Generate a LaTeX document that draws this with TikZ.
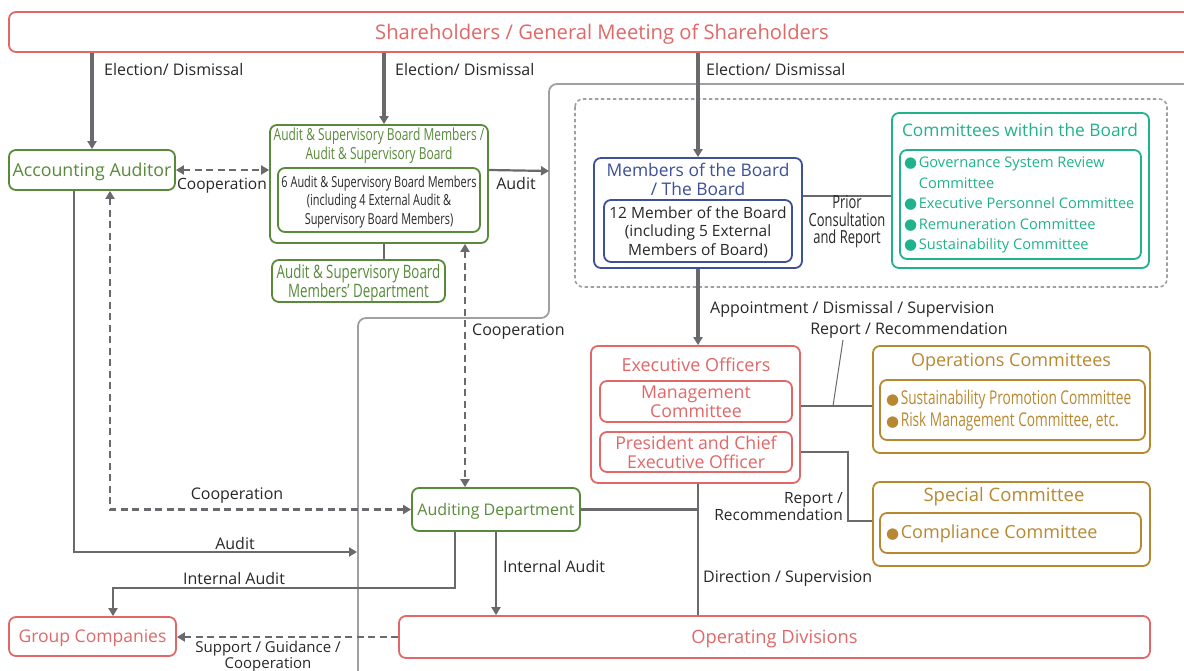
\documentclass[tikz,border=0pt]{standalone}
\usepackage{fontspec}
\setmainfont{Open Sans}
\newfontfamily\narrowfont[FakeStretch=0.72]{Open Sans}
\newfontfamily\symfont{DejaVu Sans}
\usetikzlibrary{arrows.meta}

\definecolor{redc}{RGB}{224,104,104}
\definecolor{greenc}{RGB}{88,138,58}
\definecolor{bluec}{RGB}{62,80,150}
\definecolor{tealc}{RGB}{32,178,140}
\definecolor{goldc}{RGB}{184,136,48}
\definecolor{linec}{RGB}{105,105,110}
\definecolor{framec}{RGB}{160,160,160}
\definecolor{txt}{RGB}{40,40,40}

\newcommand\fsz[2]{\fontsize{#1}{#2}\selectfont}
\newcommand\bul{{\symfont\fontsize{15}{15}\selectfont\char"25CF}\hspace{1.5pt}}

\tikzset{
  box/.style={draw, rounded corners=7pt, line width=1.8pt, inner sep=0pt, align=center, text depth=0pt},
  conn/.style={draw=linec, line width=2.2pt},
  coop/.style={conn, dash pattern=on 7pt off 4.5pt},
  bigconn/.style={draw=linec, line width=4pt},
  lbl/.style={text=txt, font=\fsz{16}{18}, inner sep=1pt},
}

\begin{document}
\begin{tikzpicture}[x=1pt, y=-1pt, >={Triangle[length=8pt,width=9pt]}]
\useasboundingbox (0,0) rectangle (1184,671);
\fill[white] (0,0) rectangle (1184,671);

% outer frame lines
\draw[framec, line width=1.8pt, rounded corners=8pt] (1200,84) -- (549,84) -- (549,318) -- (358,318) -- (358,690);
\draw[framec, line width=1.6pt, rounded corners=8pt, dash pattern=on 3.5pt off 2.5pt] (575,99) rectangle (1167,287);

% shareholders
\node[box, draw=redc, text=redc, minimum width=1186pt, minimum height=40pt, font=\fsz{20.2}{22}] (share) at (602,32) {Shareholders / General Meeting of Shareholders};

% audit side
\node[box, draw=greenc, text=greenc, minimum width=166pt, minimum height=40pt, font=\fsz{17.8}{22}] (acc) at (92,170) {Accounting Auditor};

\node[box, draw=greenc, minimum width=218pt, minimum height=118pt] (asb) at (379,184) {};
\node[text=greenc, align=center, inner sep=0pt, font=\narrowfont\fsz{16.6}{19}] (asbt) at (379,146) {Audit \& Supervisory Board Members /\\Audit \& Supervisory Board};
\node[box, draw=greenc, text=txt, minimum width=202pt, minimum height=64pt, font=\narrowfont\fsz{15.2}{18.5}] (asbm) at (379,200) {6 Audit \& Supervisory Board Members\\(including 4 External Audit \&\\Supervisory Board Members)};
\node[box, draw=greenc, text=greenc, minimum width=173pt, minimum height=42pt, font=\narrowfont\fsz{18.5}{19}] (asbd) at (358.5,281) {Audit \& Supervisory Board\\Members’ Department};

\node[box, draw=greenc, text=greenc, minimum width=168pt, minimum height=43pt, font=\fsz{16}{20}] (aud) at (496,509.5) {Auditing Department};

% board
\node[box, draw=bluec, minimum width=208pt, minimum height=110pt] (board) at (698,213) {};
\node[text=bluec, align=center, inner sep=0pt, font=\fsz{17.4}{19}] (boardt) at (698,179) {Members of the Board\\/ The Board};
\node[box, draw=bluec, text=txt, minimum width=188pt, minimum height=62pt, font=\fsz{15.5}{18.5}] (boardm) at (698,231) {12 Member of the Board\\(including 5 External\\Members of Board)};

\node[box, draw=tealc, minimum width=257pt, minimum height=155pt] (cwb) at (1020.5,190.5) {};
\node[text=tealc, inner sep=0pt, font=\fsz{17.3}{20}] (cwbt) at (1020,130) {Committees within the Board};
\node[box, draw=tealc, minimum width=241pt, minimum height=109pt] (cwbm) at (1020.5,204.5) {};
\node[text=tealc, anchor=west, align=left, inner sep=0pt, font=\fsz{14.6}{20.5}] (cwbl) at (904,205) {\bul Governance System Review\\\phantom{\bul}Committee\\\bul Executive Personnel Committee\\\bul Remuneration Committee\\\bul Sustainability Committee};

% executive side
\node[box, draw=redc, minimum width=209pt, minimum height=137pt] (exec) at (695.5,414.5) {};
\node[text=redc, inner sep=0pt, font=\fsz{18}{20}] (exect) at (696,365) {Executive Officers};
\node[box, draw=redc, text=redc, minimum width=192pt, minimum height=41pt, font=\fsz{17.7}{18.5}] (mc) at (696,401.5) {Management\\Committee};
\node[box, draw=redc, text=redc, minimum width=192pt, minimum height=40pt, font=\fsz{17.7}{18.5}] (pceo) at (696,452) {President and Chief\\Executive Officer};

\node[box, draw=goldc, minimum width=277pt, minimum height=107pt] (opc) at (1011.5,399.5) {};
\node[text=goldc, inner sep=0pt, font=\fsz{18}{20}] (opct) at (1011,362) {Operations Committees};
\node[box, draw=goldc, minimum width=265pt, minimum height=60pt] (opcm) at (1012.5,410) {};
\node[text=goldc, anchor=west, align=left, inner sep=0pt, font=\narrowfont\fsz{19}{22}] (opcl) at (886,411) {\bul Sustainability Promotion Committee\\\bul Risk Management Committee, etc.};

\node[box, draw=goldc, minimum width=277pt, minimum height=84pt] (spc) at (1011.5,524) {};
\node[text=goldc, inner sep=0pt, font=\fsz{18.5}{20}] (spct) at (1004,497) {Special Committee};
\node[box, draw=goldc, minimum width=261pt, minimum height=40pt] (spcm) at (1010.5,533) {};
\node[text=goldc, anchor=west, inner sep=0pt, font=\fsz{18}{20}] (spcl) at (886,534) {\bul Compliance Committee};

% bottom row
\node[box, draw=redc, text=redc, minimum width=167pt, minimum height=39pt, font=\fsz{17.5}{20}] (grp) at (92.5,636.5) {Group Companies};
\node[box, draw=redc, text=redc, minimum width=751pt, minimum height=42pt, font=\fsz{18.3}{20}] (opd) at (774.5,637) {Operating Divisions};

% helper points
\coordinate (e1) at (384,0);
\coordinate (fa) at (549,171);
\coordinate (fb) at (357,552);
\coordinate (c2) at (465,0);
\coordinate (c3) at (110,0);
\coordinate (c4) at (74,552);
\coordinate (ia) at (455,588);
\coordinate (ib) at (113,588);
\coordinate (pc) at (0,196);
\coordinate (rr) at (833,406);
\coordinate (sr) at (848,521);

% election
\draw[bigconn, ->] (share.south -| acc) -- (acc.north);
\draw[bigconn, ->] (share.south -| e1) -- (asb.north -| e1);
\draw[bigconn, ->] (share.south -| board) -- (board.north);
\node[lbl, anchor=west] at (103,70) {Election/ Dismissal};
\node[lbl, anchor=west] at (394,70) {Election/ Dismissal};
\node[lbl, anchor=west] at (705,70) {Election/ Dismissal};

% audit links
\draw[coop, <->] (acc.east) -- (acc.east -| asb.west);
\node[lbl, anchor=north, font=\fsz{15.5}{18}] at (222,177) {Cooperation};
\draw[conn, ->] (acc.east -| asb.east) -- (fa);
\node[lbl, anchor=north] at (516,176) {Audit};
\draw[conn] (asb.south -| e1) -- (asbd.north -| e1);
\draw[coop, <->] (asb.south -| c2) -- (aud.north -| c2);
\node[lbl, anchor=west] at (471,332) {Cooperation};
\draw[coop, <->] (acc.south -| c3) |- (aud.west);
\node[lbl, anchor=south] at (237,505) {Cooperation};
\draw[conn, ->] (acc.south -| c4) -- (c4) -- (fb);
\node[lbl, anchor=south] at (235,551) {Audit};
\draw[conn, ->] (aud.south -| ia) -- (ia) -- (ib) -- (grp.north -| ib);
\node[lbl, anchor=south] at (234,586) {Internal Audit};
\draw[conn, ->] (aud.south) -- (aud.south |- opd.north);
\node[lbl, anchor=west] at (502,566) {Internal Audit};
\draw[conn] (aud.east) -- (aud.east -| board.south);

% board and executives
\draw[conn] (board.east |- pc) -- (cwb.west |- pc);
\node[lbl, align=center, font=\narrowfont\fsz{18}{17.5}] at (847,222) {Prior\\Consultation\\and Report};
\draw[bigconn, ->] (board.south) -- (board.south |- exec.north);
\node[lbl, anchor=west] at (709,309) {Appointment / Dismissal / Supervision};
\draw[conn] (exec.east |- rr) -- (opc.west |- rr);
\draw[conn, line width=1pt] (rr) -- (843,340);
\node[lbl] at (909,330) {Report / Recommendation};
\draw[conn] (pceo.east -| exec.east) -| (sr) -- (sr -| spc.west);
\node[lbl, anchor=east, align=right, font=\fsz{15.5}{17}] at (844,507) {Report /\\Recommendation};
\draw[conn] (exec.south -| board.south) -- (opd.north -| board.south);
\node[lbl, anchor=west] at (702,579) {Direction / Supervision};
\draw[coop, ->] (opd.west) -- (opd.west -| grp.east);
\node[lbl, align=center, anchor=north, inner sep=0pt, font=\fsz{15}{14.5}] at (268,641) {Support / Guidance /\\Cooperation};

\end{tikzpicture}
\end{document}
